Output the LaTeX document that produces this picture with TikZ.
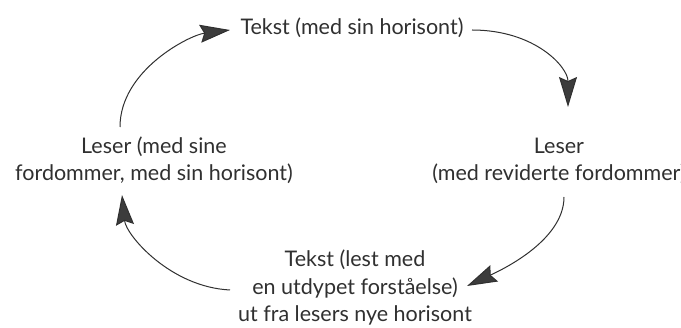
\documentclass[tikz,border=0pt]{standalone}
\usepackage{fontspec}
\setmainfont{Lato}
\usetikzlibrary{arrows.meta,calc}
\definecolor{ink}{HTML}{303030}
\definecolor{head}{HTML}{3C3C3C}
\begin{document}
\begin{tikzpicture}[x=1pt,y=-1pt,
  lbl/.style={font=\fontsize{21.5}{27.5}\selectfont, text=ink, align=center, inner sep=0pt, anchor=base},
  cyc/.style={draw=ink, line width=1pt, -{Stealth[length=30pt,width=18pt,inset=4pt,fill=head]}}]
\useasboundingbox (0,0) rectangle (681,328);
\node[lbl] (top) at (352,35) {Tekst (med sin horisont)};
\node[lbl] (left) at (154,181) {Leser (med sine\\fordommer, med sin horisont)};
\node[lbl] (right) at (559,181) {Leser\\(med reviderte fordommer)};
\node[lbl] (bottom) at (355,322) {Tekst (lest med\\en utdypet forståelse)\\ut fra lesers nye horisont};
\draw[cyc] ($(left.base)+(-34,-54)$) .. controls +(0,-57) and +(-40,5) .. ($(top.base)+(-122,-5)$);
\draw[cyc] ($(top.base)+(120,-5)$) .. controls +(63,0) and +(0,-40) .. ($(right.base)+(9,-74)$);
\draw[cyc] ($(right.base)+(5,16)$) .. controls +(0,45) and +(30,-14) .. ($(bottom.base)+(112,-36)$);
\draw[cyc] ($(bottom.base)+(-125,-32)$) .. controls +(-60,-3) and +(4,40) .. ($(left.base)+(-32,14)$);
\end{tikzpicture}
\end{document}
